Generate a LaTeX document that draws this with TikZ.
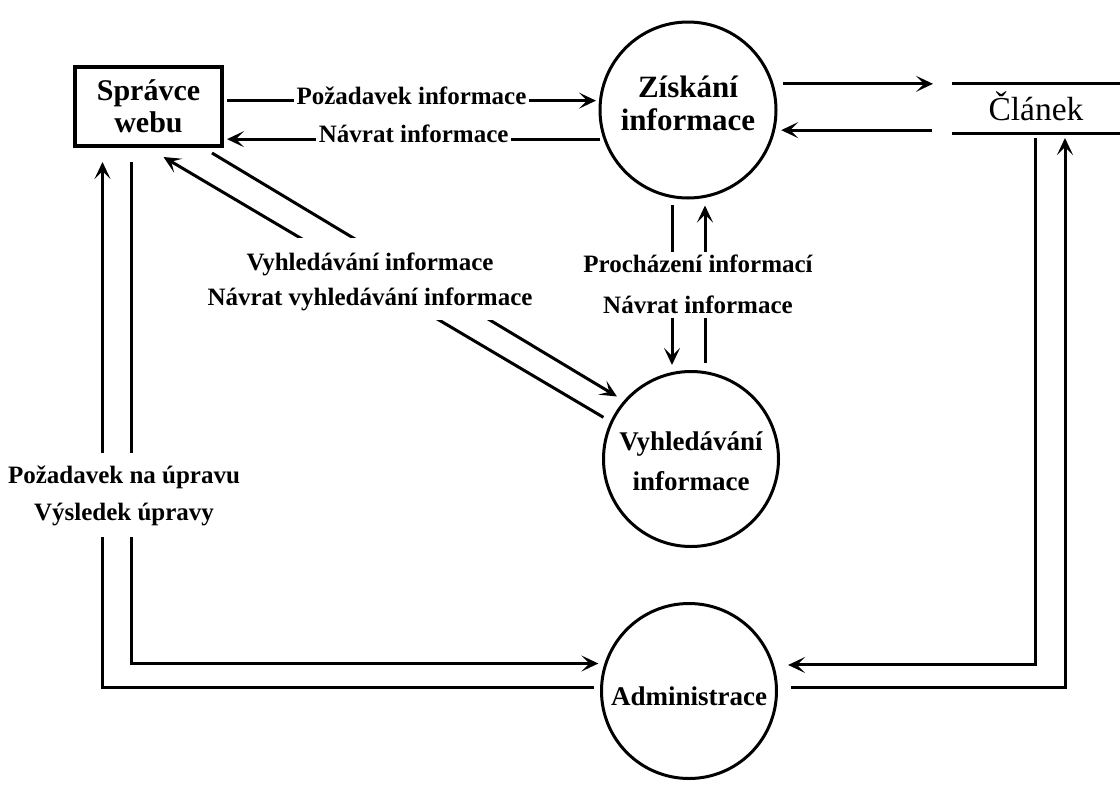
\documentclass[tikz,border=0pt]{standalone}
\usepackage{fontspec}
\setmainfont{Liberation Serif}
\usetikzlibrary{arrows.meta,calc}
% two centred lines whose reference point is the first baseline
\newcommand{\twolines}[2]{\begin{tabular}[t]{@{}c@{}}#1\\#2\end{tabular}}
\begin{document}
\begin{tikzpicture}[x=1pt,y=-1pt,
  flow/.style={line width=3pt,-{Stealth[length=17pt,width=16pt,inset=8pt]}},
  proc/.style={circle,draw,line width=3pt,minimum size=176pt,inner sep=0pt},
  lab/.style={fill=white,inner xsep=3pt,inner ysep=0pt,text height=10pt,text depth=0pt,
    font=\fontsize{25}{30}\selectfont\bfseries,anchor=base,yshift=-3.5pt},
  blk/.style={fill=white,inner xsep=4pt,inner ysep=0pt,anchor=base,
    font=\fontsize{25}{35}\selectfont\bfseries}]

\fill[white] (0,0) rectangle (1120,785);
\useasboundingbox (0,0) rectangle (1120,785);

% external entity
\node[draw,line width=4pt,minimum width=147pt,minimum height=79pt,inner sep=0pt,
  font=\fontsize{30}{32}\selectfont\bfseries,text height=22pt,text depth=35pt]
  (web) at (148.5,106.5) {\twolines{Správce}{webu}};

% processes
\node[proc,font=\fontsize{31}{33}\selectfont\bfseries,text height=22pt,text depth=48pt]
  (zisk) at (688,110) {\twolines{Získání}{informace}};
\node[proc,minimum size=175pt,font=\fontsize{27}{40}\selectfont\bfseries,text height=20pt,text depth=38pt]
  (vyh) at (691,459) {\twolines{Vyhledávání}{informace}};
\node[proc,minimum size=175pt,font=\fontsize{27}{30}\selectfont\bfseries,text height=28pt,text depth=0pt]
  (admin) at (689,691) {Administrace};

% data store
\node[minimum width=168pt,minimum height=50pt,inner sep=0pt,outer sep=0pt,
  font=\fontsize{33.5}{36}\selectfont,text height=24pt,text depth=0pt]
  (clanek) at (1036,108) {Článek};
\draw[line width=3pt] (clanek.north west) -- (clanek.north east)
                      (clanek.south west) -- (clanek.south east);

% flows between the administrator and information retrieval
\draw[flow,shorten <=3pt,shorten >=3pt] (web.east |- zisk.174) --
  node[lab,midway] {Požadavek informace} (zisk.174);
\draw[flow,shorten <=3pt,shorten >=3pt] (zisk.199) --
  node[lab,midway] {Návrat informace} (web.east |- zisk.199);

% flows to and from the article store
\draw[flow] ($(zisk.17)+(9,0)$) -- ($(clanek.west |- zisk.17)+(-19,0)$);
\draw[flow] ($(clanek.west |- zisk.-13)+(-20,0)$) -- ($(zisk.-13)+(6,0)$);

% browsing between retrieval and search
\draw[flow] ($(zisk.south)+(-16,5)$) -- ($(vyh.north)+(-19,-5)$);
\draw[flow] ($(vyh.north)+(14,-7)$) -- ($(zisk.south)+(17,6)$);

% searching
\draw[flow,shorten >=8pt] ($(web.south east)+(-12,5)$) -- (vyh.139);
\draw[flow,shorten <=8pt] (vyh.155) -- ($(web.south)+(15,9)$);

% editing through administration
\draw[flow] ($(web.south)+(-17,14)$) |- ($(admin.162)+(-6,0)$);
\draw[flow] ($(admin.178)+(-6,0)$) -| ($(web.south)+(-46,14)$);
\draw[flow] ($(clanek.south)+(-1,5)$) |- ($(admin.17)+(14,0)$);
\draw[flow] ($(admin.2)+(13,0)$) -| ($(clanek.south)+(29,5)$);

% flow labels that interrupt the parallel lines
\node[blk,text height=32pt,text depth=50pt] (lbldiag) at (370,270)
  {\twolines{Vyhledávání informace}{Návrat vyhledávání informace}};
\node[blk,font=\fontsize{25}{41}\selectfont\bfseries,text height=20pt,text depth=46pt]
  (lblmid) at (698,272) {\twolines{Procházení informací}{Návrat informace}};
\node[blk,font=\fontsize{25}{37}\selectfont\bfseries,text height=30pt,text depth=54pt]
  (lblleft) at (124,483) {\twolines{Požadavek na úpravu}{Výsledek úpravy}};
\end{tikzpicture}
\end{document}
